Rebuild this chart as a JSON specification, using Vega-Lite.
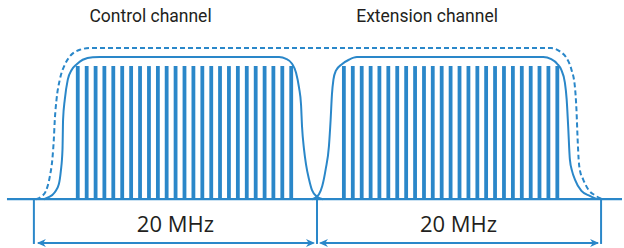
{
  "$schema": "https://vega.github.io/schema/vega-lite/v6.json",
  "width": 624,
  "height": 248,
  "padding": 0,
  "autosize": {"type": "fit", "contains": "padding"},
  "background": "white",
  "config": {"view": {"stroke": null}},
  "layer": [
    {
      "data": {"values": [
        {"freq": -16.90, "amp": 0.99}, {"freq": -16.27, "amp": 0.99}, {"freq": -15.64, "amp": 0.99}, {"freq": -15.02, "amp": 0.99}, {"freq": -14.39, "amp": 0.99},
        {"freq": -13.76, "amp": 0.99}, {"freq": -13.13, "amp": 0.99}, {"freq": -12.50, "amp": 0.99}, {"freq": -11.87, "amp": 0.99}, {"freq": -11.24, "amp": 0.99},
        {"freq": -10.62, "amp": 0.99}, {"freq": -9.99, "amp": 0.99}, {"freq": -9.36, "amp": 0.99}, {"freq": -8.73, "amp": 0.99}, {"freq": -8.10, "amp": 0.99},
        {"freq": -7.47, "amp": 0.99}, {"freq": -6.85, "amp": 0.99}, {"freq": -6.22, "amp": 0.99}, {"freq": -5.59, "amp": 0.99}, {"freq": -4.96, "amp": 0.99},
        {"freq": -4.33, "amp": 0.99}, {"freq": -3.70, "amp": 0.99}, {"freq": -3.08, "amp": 0.99}, {"freq": -2.45, "amp": 0.99}, {"freq": -1.82, "amp": 0.99},
        {"freq": 1.90, "amp": 0.99}, {"freq": 2.53, "amp": 0.99}, {"freq": 3.16, "amp": 0.99}, {"freq": 3.79, "amp": 0.99}, {"freq": 4.41, "amp": 0.99},
        {"freq": 5.04, "amp": 0.99}, {"freq": 5.67, "amp": 0.99}, {"freq": 6.30, "amp": 0.99}, {"freq": 6.93, "amp": 0.99}, {"freq": 7.56, "amp": 0.99},
        {"freq": 8.18, "amp": 0.99}, {"freq": 8.81, "amp": 0.99}, {"freq": 9.44, "amp": 0.99}, {"freq": 10.07, "amp": 0.99}, {"freq": 10.70, "amp": 0.99},
        {"freq": 11.33, "amp": 0.99}, {"freq": 11.95, "amp": 0.99}, {"freq": 12.58, "amp": 0.99}, {"freq": 13.21, "amp": 0.99}, {"freq": 13.84, "amp": 0.99},
        {"freq": 14.47, "amp": 0.99}, {"freq": 15.10, "amp": 0.99}, {"freq": 15.72, "amp": 0.99}, {"freq": 16.35, "amp": 0.99}, {"freq": 16.98, "amp": 0.99}
      ]},
      "mark": {"type": "rule", "color": "#2a87c9", "strokeWidth": 3.8, "strokeCap": "butt"},
      "encoding": {
        "x": {"field": "freq", "type": "quantitative", "axis": null, "scale": {"domain": [-22.394, 21.549], "nice": false, "zero": false}},
        "y": {"field": "amp", "type": "quantitative", "axis": null, "scale": {"domain": [-0.3556, 1.4815], "nice": false, "zero": false}},
        "y2": {"datum": 0}
      }
    },
    {
      "data": {"values": [
        {"ch": "control", "freq": -19.296, "amp": 0}, {"ch": "control", "freq": -18.993, "amp": 0.0126}, {"ch": "control", "freq": -18.521, "amp": 0.0519},
        {"ch": "control", "freq": -18.239, "amp": 0.111}, {"ch": "control", "freq": -18.099, "amp": 0.207}, {"ch": "control", "freq": -17.979, "amp": 0.370},
        {"ch": "control", "freq": -17.937, "amp": 0.593}, {"ch": "control", "freq": -17.817, "amp": 0.741}, {"ch": "control", "freq": -17.606, "amp": 0.889},
        {"ch": "control", "freq": -17.324, "amp": 0.963}, {"ch": "control", "freq": -16.972, "amp": 1.004}, {"ch": "control", "freq": -16.549, "amp": 1.037},
        {"ch": "control", "freq": -15.845, "amp": 1.056}, {"ch": "control", "freq": -15.352, "amp": 1.057}, {"ch": "control", "freq": -2.676, "amp": 1.057},
        {"ch": "control", "freq": -2.183, "amp": 1.044}, {"ch": "control", "freq": -1.761, "amp": 1.007}, {"ch": "control", "freq": -1.479, "amp": 0.941},
        {"ch": "control", "freq": -1.268, "amp": 0.830}, {"ch": "control", "freq": -1.127, "amp": 0.704}, {"ch": "control", "freq": -1.056, "amp": 0.541},
        {"ch": "control", "freq": -0.915, "amp": 0.370}, {"ch": "control", "freq": -0.775, "amp": 0.259}, {"ch": "control", "freq": -0.563, "amp": 0.148},
        {"ch": "control", "freq": -0.352, "amp": 0.0667}, {"ch": "control", "freq": 0.0, "amp": 0.0185}, {"ch": "control", "freq": 0.423, "amp": 0},
        {"ch": "extension", "freq": -0.352, "amp": 0}, {"ch": "extension", "freq": -0.0915, "amp": 0.0126}, {"ch": "extension", "freq": 0.141, "amp": 0.037},
        {"ch": "extension", "freq": 0.373, "amp": 0.0985}, {"ch": "extension", "freq": 0.613, "amp": 0.222}, {"ch": "extension", "freq": 0.845, "amp": 0.395},
        {"ch": "extension", "freq": 0.965, "amp": 0.593}, {"ch": "extension", "freq": 1.056, "amp": 0.778}, {"ch": "extension", "freq": 1.162, "amp": 0.889},
        {"ch": "extension", "freq": 1.338, "amp": 0.956}, {"ch": "extension", "freq": 1.761, "amp": 1.004}, {"ch": "extension", "freq": 2.254, "amp": 1.037},
        {"ch": "extension", "freq": 2.817, "amp": 1.057}, {"ch": "extension", "freq": 15.986, "amp": 1.057}, {"ch": "extension", "freq": 16.549, "amp": 1.041},
        {"ch": "extension", "freq": 16.972, "amp": 1.007}, {"ch": "extension", "freq": 17.254, "amp": 0.963}, {"ch": "extension", "freq": 17.514, "amp": 0.867},
        {"ch": "extension", "freq": 17.641, "amp": 0.741}, {"ch": "extension", "freq": 17.746, "amp": 0.541}, {"ch": "extension", "freq": 17.866, "amp": 0.296},
        {"ch": "extension", "freq": 18.028, "amp": 0.207}, {"ch": "extension", "freq": 18.218, "amp": 0.148}, {"ch": "extension", "freq": 18.683, "amp": 0.0615},
        {"ch": "extension", "freq": 19.275, "amp": 0.0244}, {"ch": "extension", "freq": 19.789, "amp": 0}
      ]},
      "mark": {"type": "line", "color": "#2a87c9", "strokeWidth": 2, "interpolate": "monotone"},
      "encoding": {
        "x": {"field": "freq", "type": "quantitative", "axis": null, "scale": {"domain": [-22.394, 21.549], "nice": false, "zero": false}},
        "y": {"field": "amp", "type": "quantitative", "axis": null, "scale": {"domain": [-0.3556, 1.4815], "nice": false, "zero": false}},
        "detail": {"field": "ch"}
      }
    },
    {
      "data": {"values": [
        {"freq": -19.859, "amp": 0}, {"freq": -19.437, "amp": 0.0222}, {"freq": -19.155, "amp": 0.0593}, {"freq": -18.873, "amp": 0.170},
        {"freq": -18.697, "amp": 0.296}, {"freq": -18.592, "amp": 0.444}, {"freq": -18.521, "amp": 0.593}, {"freq": -18.401, "amp": 0.741},
        {"freq": -18.169, "amp": 0.889}, {"freq": -17.817, "amp": 1.0}, {"freq": -17.465, "amp": 1.061}, {"freq": -16.761, "amp": 1.111},
        {"freq": -16.056, "amp": 1.124}, {"freq": 16.549, "amp": 1.124}, {"freq": 17.162, "amp": 1.099}, {"freq": 17.627, "amp": 1.050},
        {"freq": 17.979, "amp": 0.963}, {"freq": 18.218, "amp": 0.839}, {"freq": 18.331, "amp": 0.667}, {"freq": 18.415, "amp": 0.444},
        {"freq": 18.486, "amp": 0.296}, {"freq": 18.592, "amp": 0.207}, {"freq": 18.803, "amp": 0.148}, {"freq": 19.155, "amp": 0.074},
        {"freq": 19.627, "amp": 0.0296}, {"freq": 20.141, "amp": 0}
      ]},
      "mark": {"type": "line", "color": "#2a87c9", "strokeWidth": 2, "strokeDash": [5, 3], "interpolate": "monotone"},
      "encoding": {
        "x": {"field": "freq", "type": "quantitative", "axis": null, "scale": {"domain": [-22.394, 21.549], "nice": false, "zero": false}},
        "y": {"field": "amp", "type": "quantitative", "axis": null, "scale": {"domain": [-0.3556, 1.4815], "nice": false, "zero": false}}
      }
    },
    {
      "data": {"values": [{"start": -21.901, "end": 21.549, "amp": 0}]},
      "mark": {"type": "rule", "color": "#2a87c9", "strokeWidth": 2.3},
      "encoding": {
        "x": {"field": "start", "type": "quantitative", "axis": null, "scale": {"domain": [-22.394, 21.549], "nice": false, "zero": false}},
        "x2": {"field": "end"},
        "y": {"field": "amp", "type": "quantitative", "axis": null, "scale": {"domain": [-0.3556, 1.4815], "nice": false, "zero": false}}
      }
    },
    {
      "data": {"values": [{"freq": -20, "top": 0, "bottom": -0.333}, {"freq": 0, "top": 0, "bottom": -0.333}, {"freq": 20.07, "top": 0, "bottom": -0.333}]},
      "mark": {"type": "rule", "color": "#2a87c9", "strokeWidth": 2},
      "encoding": {
        "x": {"field": "freq", "type": "quantitative", "axis": null, "scale": {"domain": [-22.394, 21.549], "nice": false, "zero": false}},
        "y": {"field": "top", "type": "quantitative", "axis": null, "scale": {"domain": [-0.3556, 1.4815], "nice": false, "zero": false}},
        "y2": {"field": "bottom"}
      }
    },
    {
      "data": {"values": [{"start": -19.7, "end": -0.25, "amp": -0.326}, {"start": 0.25, "end": 19.85, "amp": -0.326}]},
      "mark": {"type": "rule", "color": "#2a87c9", "strokeWidth": 2},
      "encoding": {
        "x": {"field": "start", "type": "quantitative", "axis": null, "scale": {"domain": [-22.394, 21.549], "nice": false, "zero": false}},
        "x2": {"field": "end"},
        "y": {"field": "amp", "type": "quantitative", "axis": null, "scale": {"domain": [-0.3556, 1.4815], "nice": false, "zero": false}}
      }
    },
    {
      "data": {"values": [{"freq": -19.789, "amp": -0.326, "dir": "L"}, {"freq": -0.141, "amp": -0.326, "dir": "R"}, {"freq": 0.141, "amp": -0.326, "dir": "L"}, {"freq": 19.93, "amp": -0.326, "dir": "R"}]},
      "mark": {"type": "point", "filled": true, "color": "#2a87c9", "opacity": 1, "size": 81, "strokeWidth": 0},
      "encoding": {
        "x": {"field": "freq", "type": "quantitative", "axis": null, "scale": {"domain": [-22.394, 21.549], "nice": false, "zero": false}},
        "y": {"field": "amp", "type": "quantitative", "axis": null, "scale": {"domain": [-0.3556, 1.4815], "nice": false, "zero": false}},
        "shape": {"field": "dir", "type": "nominal", "legend": null, "scale": {"domain": ["L", "R"], "range": ["M 0 0 L 2 -0.9 L 1.4 0 L 2 0.9 Z", "M 0 0 L -2 -0.9 L -1.4 0 L -2 0.9 Z"]}}
      }
    },
    {
      "data": {"values": [{"freq": -10, "amp": -0.1926, "label": "20 MHz"}, {"freq": 10, "amp": -0.1926, "label": "20 MHz"}]},
      "mark": {"type": "text", "font": "Open Sans", "fontSize": 22, "color": "#231f20", "align": "center", "baseline": "middle"},
      "encoding": {
        "x": {"field": "freq", "type": "quantitative", "axis": null, "scale": {"domain": [-22.394, 21.549], "nice": false, "zero": false}},
        "y": {"field": "amp", "type": "quantitative", "axis": null, "scale": {"domain": [-0.3556, 1.4815], "nice": false, "zero": false}},
        "text": {"field": "label"}
      }
    },
    {
      "data": {"values": [{"freq": -11.76, "amp": 1.3185, "label": "Control channel"}, {"freq": 7.78, "amp": 1.3185, "label": "Extension channel"}]},
      "mark": {"type": "text", "font": "Roboto", "fontSize": 17.5, "color": "#231f20", "align": "center", "baseline": "alphabetic"},
      "encoding": {
        "x": {"field": "freq", "type": "quantitative", "axis": null, "scale": {"domain": [-22.394, 21.549], "nice": false, "zero": false}},
        "y": {"field": "amp", "type": "quantitative", "axis": null, "scale": {"domain": [-0.3556, 1.4815], "nice": false, "zero": false}},
        "text": {"field": "label"}
      }
    }
  ]
}
